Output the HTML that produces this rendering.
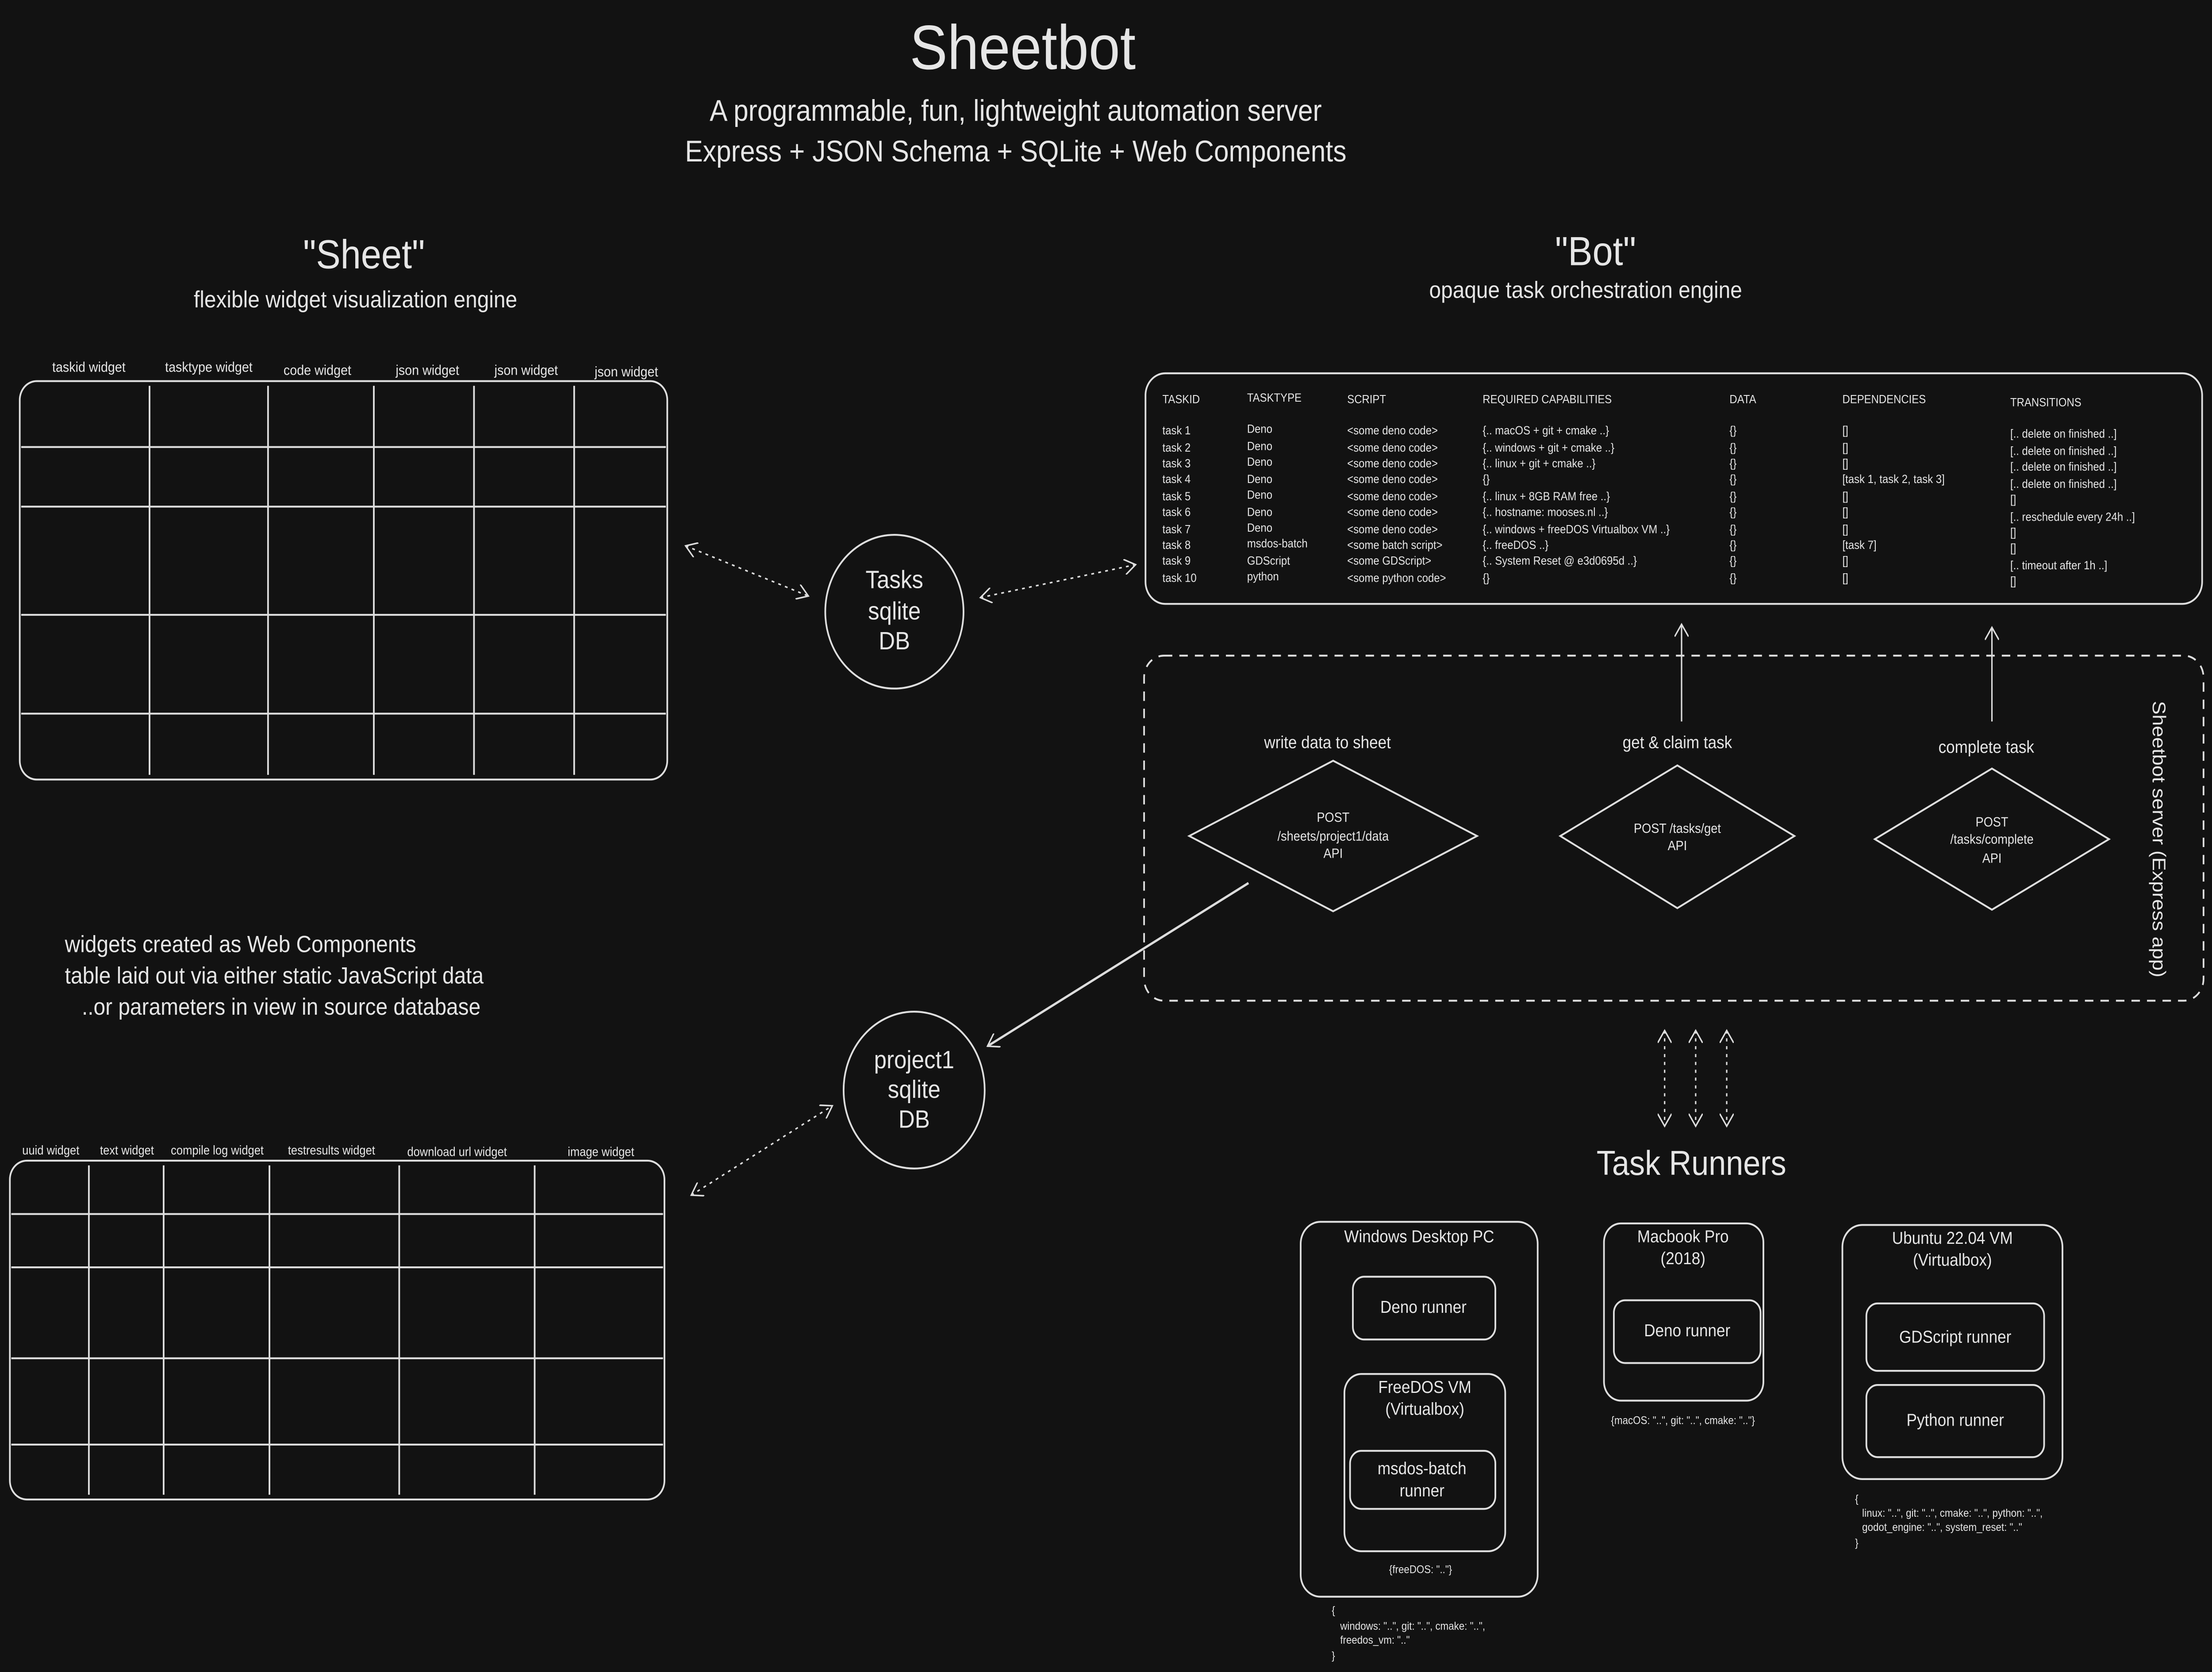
<!DOCTYPE html>
<html><head><meta charset="utf-8"><style>
html,body{margin:0;padding:0;background:#121212;width:100%;height:100%;overflow:hidden;}
svg{display:block;position:fixed;left:0;top:0;width:100vw;height:100vh;}
text{font-family:"Liberation Sans","DejaVu Sans",sans-serif;fill:#e6e6e6;}
</style></head><body>
<svg viewBox="0 0 1568 1066" preserveAspectRatio="none" xmlns="http://www.w3.org/2000/svg">
<defs>
<marker id="ah" markerWidth="10" markerHeight="10" refX="8" refY="5" orient="auto" markerUnits="userSpaceOnUse"><path d="M0,0 L8,5 L0,10" fill="none" stroke="#ddd" stroke-width="1"/></marker>
<marker id="as" markerWidth="10" markerHeight="10" refX="2" refY="5" orient="auto" markerUnits="userSpaceOnUse"><path d="M10,0 L2,5 L10,10" fill="none" stroke="#ddd" stroke-width="1"/></marker>
</defs>
<rect width="1568" height="1066" fill="#121212"/>
<g text-anchor="middle">
<text x="725" y="44" font-size="40">Sheetbot</text>
<text x="720" y="77" font-size="19">A programmable, fun, lightweight automation server</text>
<text x="720" y="103" font-size="19">Express + JSON Schema + SQLite + Web Components</text>
<text x="258" y="171" font-size="26">"Sheet"</text>
<text x="252" y="196" font-size="15">flexible widget visualization engine</text>
<text x="1131" y="169" font-size="26">"Bot"</text>
<text x="1124" y="190" font-size="15">opaque task orchestration engine</text>
</g>
<g fill="none" stroke="#dedede" stroke-width="1.2">
<rect x="14" y="243" width="459" height="254" rx="12"/>
<path d="M106,246V494M190,246V494M265,246V494M336,246V494M407,246V494M15,285H472M15,323H472M15,392H472M15,455H472"/>
<rect x="7" y="740" width="464" height="216" rx="12"/>
<path d="M63,743V953M116,743V953M191,743V953M283,743V953M379,743V953M8,774H470M8,808H470M8,866H470M8,921H470"/>
<circle cx="634" cy="390" r="49"/>
<circle cx="648" cy="695" r="50"/>
<rect x="812" y="238" width="749" height="147" rx="14"/>
<rect x="811" y="418" width="751" height="220" rx="14" stroke-dasharray="6,5"/>
<path d="M945,485 L1047,533 L945,581 L843,533 Z"/>
<path d="M1189,488 L1272,533 L1189,579 L1106,533 Z"/>
<path d="M1412,490 L1495,535 L1412,580 L1329,535 Z"/>
<rect x="922" y="779" width="168" height="239" rx="14"/>
<rect x="959" y="814" width="101" height="40" rx="8"/>
<rect x="953" y="876" width="114" height="113" rx="12"/>
<rect x="957" y="925" width="103" height="37" rx="8"/>
<rect x="1137" y="780" width="113" height="113" rx="12"/>
<rect x="1144" y="829" width="104" height="40" rx="8"/>
<rect x="1306" y="781" width="156" height="162" rx="14"/>
<rect x="1323" y="831" width="126" height="43" rx="8"/>
<rect x="1323" y="883" width="126" height="46" rx="8"/>
</g>
<g fill="none" stroke="#dddddd" stroke-width="1">
<path d="M486,348 L573,380" stroke-dasharray="2,3" marker-start="url(#as)" marker-end="url(#ah)"/>
<path d="M695,381 L805,360" stroke-dasharray="2,3" marker-start="url(#as)" marker-end="url(#ah)"/>
<path d="M490,762 L590,705" stroke-dasharray="2,3" marker-start="url(#as)" marker-end="url(#ah)"/>
<path d="M1180,657 V718" stroke-dasharray="2,3" marker-start="url(#as)" marker-end="url(#ah)"/>
<path d="M1202,657 V718" stroke-dasharray="2,3" marker-start="url(#as)" marker-end="url(#ah)"/>
<path d="M1224,657 V718" stroke-dasharray="2,3" marker-start="url(#as)" marker-end="url(#ah)"/>
<path d="M1192,460 V398" marker-end="url(#ah)"/>
<path d="M1412,460 V400" marker-end="url(#ah)"/>
<path d="M885,563 L700,667" stroke-width="1.5" marker-end="url(#ah)"/>
</g>
<g font-size="9" text-anchor="middle">
<text x="63" y="237">taskid widget</text><text x="148" y="237">tasktype widget</text><text x="225" y="239">code widget</text>
<text x="303" y="239">json widget</text><text x="373" y="239">json widget</text><text x="444" y="240">json widget</text>
<text x="36" y="736" font-size="8">uuid widget</text><text x="90" y="736" font-size="8">text widget</text><text x="154" y="736" font-size="8">compile log widget</text>
<text x="235" y="736" font-size="8">testresults widget</text><text x="324" y="737" font-size="8">download url widget</text><text x="426" y="737" font-size="8">image widget</text>
</g>
<g font-size="16" text-anchor="middle">
<text x="634" y="375">Tasks</text><text x="634" y="395">sqlite</text><text x="634" y="414">DB</text>
<text x="648" y="681">project1</text><text x="648" y="700">sqlite</text><text x="648" y="719">DB</text>
</g>
<g font-size="7.5">
<text x="824" y="257">TASKID</text><text x="884" y="256">TASKTYPE</text><text x="955" y="257">SCRIPT</text><text x="1051" y="257">REQUIRED CAPABILITIES</text><text x="1226" y="257">DATA</text><text x="1306" y="257">DEPENDENCIES</text><text x="1425" y="259">TRANSITIONS</text>
</g>
<g font-size="7.5">
<text x="824" y="277">task 1</text><text x="824" y="288">task 2</text><text x="824" y="298">task 3</text><text x="824" y="308">task 4</text><text x="824" y="319">task 5</text><text x="824" y="329">task 6</text><text x="824" y="340">task 7</text><text x="824" y="350">task 8</text><text x="824" y="360">task 9</text><text x="824" y="371">task 10</text>
<text x="884" y="276">Deno</text><text x="884" y="287">Deno</text><text x="884" y="297">Deno</text><text x="884" y="308">Deno</text><text x="884" y="318">Deno</text><text x="884" y="329">Deno</text><text x="884" y="339">Deno</text><text x="884" y="349">msdos-batch</text><text x="884" y="360">GDScript</text><text x="884" y="370">python</text>
<text x="955" y="277">&lt;some deno code&gt;</text><text x="955" y="288">&lt;some deno code&gt;</text><text x="955" y="298">&lt;some deno code&gt;</text><text x="955" y="308">&lt;some deno code&gt;</text><text x="955" y="319">&lt;some deno code&gt;</text><text x="955" y="329">&lt;some deno code&gt;</text><text x="955" y="340">&lt;some deno code&gt;</text><text x="955" y="350">&lt;some batch script&gt;</text><text x="955" y="360">&lt;some GDScript&gt;</text><text x="955" y="371">&lt;some python code&gt;</text>
<text x="1051" y="277">{.. macOS + git + cmake ..}</text><text x="1051" y="288">{.. windows + git + cmake ..}</text><text x="1051" y="298">{.. linux + git + cmake ..}</text><text x="1051" y="308">{}</text><text x="1051" y="319">{.. linux + 8GB RAM free ..}</text><text x="1051" y="329">{.. hostname: mooses.nl ..}</text><text x="1051" y="340">{.. windows + freeDOS Virtualbox VM ..}</text><text x="1051" y="350">{.. freeDOS ..}</text><text x="1051" y="360">{.. System Reset @ e3d0695d ..}</text><text x="1051" y="371">{}</text>
<text x="1226" y="277">{}</text><text x="1226" y="288">{}</text><text x="1226" y="298">{}</text><text x="1226" y="308">{}</text><text x="1226" y="319">{}</text><text x="1226" y="329">{}</text><text x="1226" y="340">{}</text><text x="1226" y="350">{}</text><text x="1226" y="360">{}</text><text x="1226" y="371">{}</text>
<text x="1306" y="277">[]</text><text x="1306" y="288">[]</text><text x="1306" y="298">[]</text><text x="1306" y="308">[task 1, task 2, task 3]</text><text x="1306" y="319">[]</text><text x="1306" y="329">[]</text><text x="1306" y="340">[]</text><text x="1306" y="350">[task 7]</text><text x="1306" y="360">[]</text><text x="1306" y="371">[]</text>
<text x="1425" y="279">[.. delete on finished ..]</text><text x="1425" y="290">[.. delete on finished ..]</text><text x="1425" y="300">[.. delete on finished ..]</text><text x="1425" y="311">[.. delete on finished ..]</text><text x="1425" y="321">[]</text><text x="1425" y="332">[.. reschedule every 24h ..]</text><text x="1425" y="342">[]</text><text x="1425" y="352">[]</text><text x="1425" y="363">[.. timeout after 1h ..]</text><text x="1425" y="373">[]</text>
</g>
<g text-anchor="middle">
<text x="941" y="477" font-size="11">write data to sheet</text>
<text x="1189" y="477" font-size="11">get &amp; claim task</text>
<text x="1408" y="480" font-size="11">complete task</text>
<g font-size="8.5">
<text x="945" y="524">POST</text><text x="945" y="536">/sheets/project1/data</text><text x="945" y="547">API</text>
<text x="1189" y="531">POST /tasks/get</text><text x="1189" y="542">API</text>
<text x="1412" y="527">POST</text><text x="1412" y="538">/tasks/complete</text><text x="1412" y="550">API</text>
</g>
<text x="1199" y="749" font-size="22">Task Runners</text>
<g font-size="11">
<text x="1006" y="792">Windows Desktop PC</text>
<text x="1009" y="837">Deno runner</text>
<text x="1010" y="888">FreeDOS VM</text><text x="1010" y="902">(Virtualbox)</text>
<text x="1008" y="940">msdos-batch</text><text x="1008" y="954">runner</text>
<text x="1193" y="792">Macbook Pro</text><text x="1193" y="806">(2018)</text>
<text x="1196" y="852">Deno runner</text>
<text x="1384" y="793">Ubuntu 22.04 VM</text><text x="1384" y="807">(Virtualbox)</text>
<text x="1386" y="856">GDScript runner</text>
<text x="1386" y="909">Python runner</text>
</g>
<g font-size="7">
<text x="1007" y="1003">{freeDOS: ".."}</text>
<text x="1193" y="908">{macOS: "..", git: "..", cmake: ".."}</text>
</g>
</g>
<g font-size="7">
<text x="944" y="1029">{</text><text x="950" y="1039">windows: "..", git: "..", cmake: "..",</text><text x="950" y="1048">freedos_vm: ".."</text><text x="944" y="1058">}</text>
<text x="1315" y="958">{</text><text x="1320" y="967">linux: "..", git: "..", cmake: "..", python: "..",</text><text x="1320" y="976">godot_engine: "..", system_reset: ".."</text><text x="1315" y="986">}</text>
</g>
<g font-size="15">
<text x="46" y="607">widgets created as Web Components</text>
<text x="46" y="627">table laid out via either static JavaScript data</text>
<text x="58" y="647">..or parameters in view in source database</text>
</g>
<text x="0" y="0" font-size="13" text-anchor="middle" transform="translate(1526,535) rotate(90)">Sheetbot server (Express app)</text>
</svg>
</body></html>
